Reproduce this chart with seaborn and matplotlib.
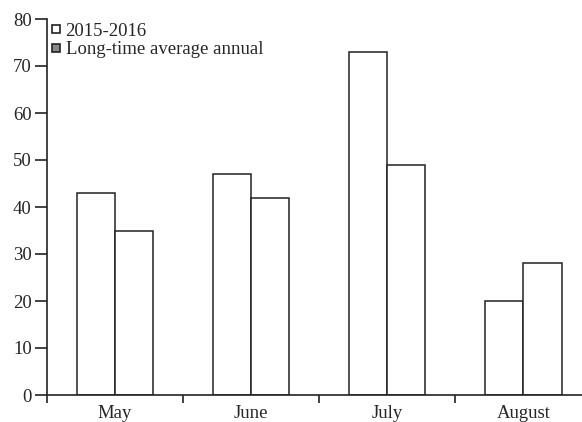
import matplotlib
matplotlib.use("Agg")
import matplotlib.pyplot as plt
import seaborn as sns
import pandas as pd
from matplotlib.lines import Line2D
from matplotlib.ticker import FixedLocator, NullFormatter

months = ["May", "June", "July", "August"]
series_names = ["2015-2016", "Long-time average annual"]
vals_2015 = [43, 47, 73, 20]
vals_avg = [35, 42, 49, 28]
yticks = [0, 10, 20, 30, 40, 50, 60, 70, 80]

df = pd.DataFrame({
    "month": months * 2,
    "series": [series_names[0]] * 4 + [series_names[1]] * 4,
    "value": vals_2015 + vals_avg,
})

sns.set_style("ticks")
plt.rcParams["font.family"] = ["Liberation Serif", "DejaVu Serif"]

FS = 13.5
fig = plt.figure(figsize=(5.82, 4.22), dpi=100)
ax = fig.add_axes([47 / 582, 27 / 422, 535 / 582, 376 / 422])

sns.barplot(data=df, x="month", y="value", hue="series", order=months,
            hue_order=series_names, width=0.56, ax=ax, legend=False,
            palette=["white", "white"], saturation=1)
for p in ax.patches:
    p.set_facecolor("white")
    p.set_edgecolor("#222222")
    p.set_linewidth(1.1)

ax.set_xlim(-0.5, 3.43)
ax.set_ylim(0, 80)
ax.set_yticks(yticks)
ax.set_yticklabels([str(t) for t in yticks], fontsize=FS)

# major ticks at category boundaries, labels at centers
ax.xaxis.set_major_locator(FixedLocator([-0.5, 0.5, 1.5, 2.5]))
ax.xaxis.set_major_formatter(NullFormatter())
ax.xaxis.set_minor_locator(FixedLocator([0, 1, 2, 3]))
ax.set_xticklabels(months, minor=True, fontsize=FS)
ax.tick_params(axis="x", which="minor", length=0, pad=7)
ax.tick_params(axis="x", which="major", length=6, width=1.2, direction="out", color="#222222")
ax.tick_params(axis="y", length=9, width=1.2, direction="out", color="#222222", pad=2)
ax.set_xlabel("")
ax.set_ylabel("")

for s in ["top", "right"]:
    ax.spines[s].set_visible(False)
for s in ["left", "bottom"]:
    ax.spines[s].set_linewidth(1.2)
    ax.spines[s].set_color("#222222")

handles = [Line2D([], [], linestyle="none", marker="s", markersize=5.5,
                  markerfacecolor="white", markeredgecolor="#222222", markeredgewidth=1.2),
           Line2D([], [], linestyle="none", marker="s", markersize=5.5,
                  markerfacecolor="#888888", markeredgecolor="#222222", markeredgewidth=1.2)]
ax.legend(handles, series_names, loc="upper left", bbox_to_anchor=(-0.002, 1.005),
          frameon=False, fontsize=FS, handlelength=0.5,
          handletextpad=0.25, labelspacing=0.08, borderaxespad=0.0,
          borderpad=0.3)

fig.savefig("out.png", dpi=100)
